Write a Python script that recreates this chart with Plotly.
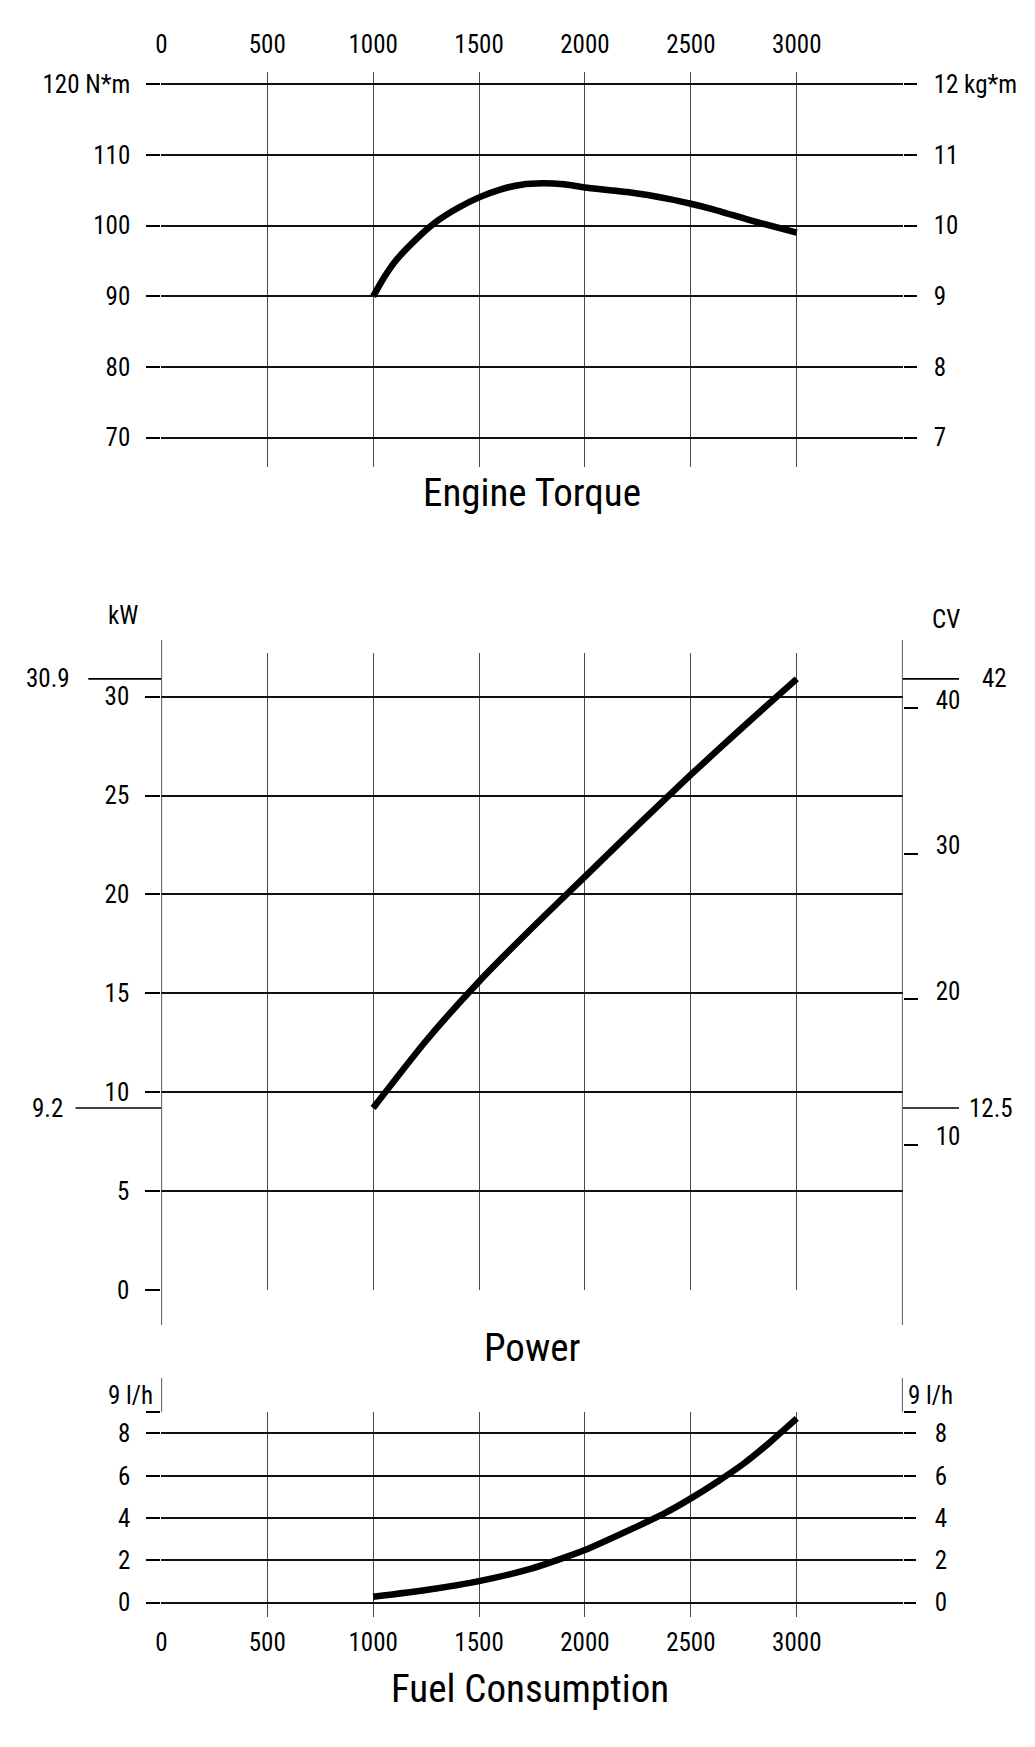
import plotly.graph_objects as go

# ---------------- data ----------------
rpm_ticks = [0, 500, 1000, 1500, 2000, 2500, 3000, 3500]
rpm_labels = ["0", "500", "1000", "1500", "2000", "2500", "3000", ""]

torque_rpm = [1000, 1050, 1100, 1200, 1300, 1400, 1500, 1600, 1700, 1800,
              1900, 2000, 2200, 2400, 2500, 2600, 2800, 3000]
torque_nm = [90.0, 92.6, 94.8, 98.0, 100.6, 102.5, 104.0, 105.1, 105.8, 106.0,
             105.85, 105.4, 104.75, 103.75, 103.1, 102.35, 100.6, 99.0]

power_rpm = [1000, 1250, 1500, 1750, 2000, 2250, 2500, 2750, 3000]
power_kw = [9.2, 12.6, 15.6, 18.3, 20.9, 23.5, 26.05, 28.5, 30.9]

fuel_rpm = [1000, 1250, 1500, 1750, 2000, 2250, 2375, 2500, 2625, 2750, 2875, 3000]
fuel_lh = [0.28, 0.6, 1.02, 1.62, 2.49, 3.62, 4.22, 4.93, 5.72, 6.58, 7.6, 8.71]

torque_ticks = [70, 80, 90, 100, 110, 120]
torque_left_labels = ["70", "80", "90", "100", "110", "120 N*m"]
torque_right_labels = ["7", "8", "9", "10", "11", "12 kg*m"]

power_ticks = [0, 5, 10, 15, 20, 25, 30]
power_labels = ["0", "5", "10", "15", "20", "25", "30"]
cv_ticks = [10, 20, 30, 40]
cv_labels = ["10", "20", "30", "40"]
KW_TO_CV = 1.35962
power_max_kw = 30.9
power_min_kw = 9.2
power_max_cv = "42"
power_min_cv = "12.5"

fuel_ticks = [0, 2, 4, 6, 8, 9]
fuel_labels = ["0", "2", "4", "6", "8", ""]

# ---------------- layout helpers ----------------
W, H = 1035, 1747
FONT = "Roboto Condensed, Liberation Sans, Arial, sans-serif"
TICK_FS = 25
TITLE_FS = 39


def px(x):
    return x / W


def py(y):
    return 1 - y / H


X_DOM = [px(161.3), px(902.7)]
PX_PER_KW = 19.78
PX_PER_LH = 21.16
PX_PER_NM = 7.067

T_TOP, T_BOT = 71.7, 466.7
t_range = [70 - (T_BOT - 437.7) / PX_PER_NM, 120 + (84.3 - T_TOP) / PX_PER_NM]
P_TOP, P_BOT = 653.0, 1290.0
p_range = [0, (P_BOT - P_TOP) / PX_PER_KW]
F_TOP, F_BOT = 1412.3, 1617.0
f_range = [-(F_BOT - 1602.7) / PX_PER_LH, 9]

tick_font = dict(family=FONT, size=TICK_FS, color="black")
VGRID = dict(showgrid=True, gridcolor="#4a4a4a", gridwidth=1.4, zeroline=False, automargin=False)
HGRID = dict(showgrid=True, gridcolor="#111111", gridwidth=1.7, zeroline=False, automargin=False)
NOGRID = dict(showgrid=False, zeroline=False, showline=False, automargin=False)

fig = go.Figure()

line_style = dict(color="black", width=6.5, shape="spline", smoothing=0.6)
fig.add_trace(go.Scatter(x=torque_rpm, y=torque_nm, mode="lines", line=line_style,
                         xaxis="x", yaxis="y", showlegend=False))
fig.add_trace(go.Scatter(x=power_rpm, y=power_kw, mode="lines", line=line_style,
                         xaxis="x2", yaxis="y2", showlegend=False))
fig.add_trace(go.Scatter(x=fuel_rpm, y=fuel_lh, mode="lines", line=line_style,
                         xaxis="x3", yaxis="y3", showlegend=False))
fig.add_trace(go.Scatter(x=[None], y=[None], xaxis="x", yaxis="y4", showlegend=False))
fig.add_trace(go.Scatter(x=[None], y=[None], xaxis="x2", yaxis="y5", showlegend=False))
fig.add_trace(go.Scatter(x=[None], y=[None], xaxis="x3", yaxis="y6", showlegend=False))

fig.update_layout(
    width=W, height=H,
    margin=dict(l=0, r=0, t=0, b=0, autoexpand=False),
    paper_bgcolor="white", plot_bgcolor="white",
    font=dict(family=FONT, color="black"),
    xaxis=dict(domain=X_DOM, range=[0, 3500], anchor="y", side="top",
               tickmode="array", tickvals=rpm_ticks, ticktext=rpm_labels,
               ticks="", tickfont=tick_font, ticklabelstandoff=13, showline=False, **VGRID),
    yaxis=dict(domain=[py(T_BOT), py(T_TOP)], range=t_range, anchor="x",
               tickmode="array", tickvals=torque_ticks, ticktext=torque_left_labels,
               ticks="outside", ticklen=14, tickwidth=1.7, tickcolor="black",
               tickfont=tick_font, ticklabelstandoff=11, showline=False, **HGRID),
    yaxis4=dict(overlaying="y", side="right", range=t_range, anchor="x",
                tickmode="array", tickvals=torque_ticks, ticktext=torque_right_labels,
                ticks="outside", ticklen=13, tickwidth=1.7, tickcolor="black",
                tickfont=tick_font, ticklabelstandoff=12, **NOGRID),
    xaxis2=dict(domain=X_DOM, range=[0, 3500], anchor="y2",
                tickmode="array", tickvals=rpm_ticks[1:-1], showticklabels=False,
                ticks="", showline=False, **VGRID),
    yaxis2=dict(domain=[py(P_BOT), py(P_TOP)], range=p_range, anchor="x2",
                tickmode="array", tickvals=power_ticks, ticktext=power_labels,
                ticks="outside", ticklen=15, tickwidth=1.7, tickcolor="black",
                tickfont=tick_font, ticklabelstandoff=11, showline=False, **HGRID),
    yaxis5=dict(overlaying="y2", side="right", anchor="x2",
                range=[p_range[0] * KW_TO_CV, p_range[1] * KW_TO_CV],
                tickmode="array", tickvals=cv_ticks, ticktext=cv_labels,
                ticks="outside", ticklen=14, tickwidth=1.5, tickcolor="black",
                tickfont=tick_font, ticklabelstandoff=13, ticklabelshift=-8, **NOGRID),
    xaxis3=dict(domain=X_DOM, range=[0, 3500], anchor="y3", side="bottom",
                tickmode="array", tickvals=rpm_ticks, ticktext=rpm_labels,
                ticks="", tickfont=tick_font, ticklabelstandoff=8, showline=False, **VGRID),
    yaxis3=dict(domain=[py(F_BOT), py(F_TOP)], range=f_range, anchor="x3",
                tickmode="array", tickvals=fuel_ticks, ticktext=fuel_labels,
                ticks="outside", ticklen=14, tickwidth=1.7, tickcolor="black",
                tickfont=tick_font, ticklabelstandoff=11, showline=False, **HGRID),
    yaxis6=dict(overlaying="y3", side="right", range=f_range, anchor="x3",
                tickmode="array", tickvals=fuel_ticks, ticktext=fuel_labels,
                ticks="outside", ticklen=12, tickwidth=1.7, tickcolor="black",
                tickfont=tick_font, ticklabelstandoff=14, **NOGRID),
)

shapes = []
for xv in (0, 3500):
    shapes.append(dict(type="line", xref="x2", yref="paper", x0=xv, x1=xv,
                       y0=py(1325), y1=py(640), line=dict(color="#333", width=1.6)))
    shapes.append(dict(type="line", xref="x3", yref="paper", x0=xv, x1=xv,
                       y0=py(F_TOP), y1=py(1378), line=dict(color="#333", width=1.6)))
for val in (power_max_kw, power_min_kw):
    x_left = px(88.3) if val == power_max_kw else px(75.6)
    shapes.append(dict(type="line", xref="paper", yref="y2", x0=x_left, x1=px(161.3),
                       y0=val, y1=val, line=dict(color="black", width=1.7)))
    shapes.append(dict(type="line", xref="paper", yref="y2", x0=px(902.7), x1=px(959),
                       y0=val, y1=val, line=dict(color="black", width=1.7)))

ann = []
def label(text, x, y, yref="paper", xanchor="center", size=TICK_FS):
    ann.append(dict(text=text, x=x, y=y, xref="paper", yref=yref, xanchor=xanchor,
                    yanchor="middle", showarrow=False,
                    font=dict(family=FONT, size=size, color="black")))

label("Engine Torque", px(532), py(493), size=TITLE_FS)
label("Power", px(532), py(1348), size=TITLE_FS)
label("Fuel Consumption", px(530), py(1689), size=TITLE_FS)
label("kW", px(123), py(615))
label("CV", px(946), py(620))
label(f"{power_max_kw}", px(72), power_max_kw, yref="y2", xanchor="right")
label(f"{power_min_kw}", px(65), power_min_kw, yref="y2", xanchor="right")
label(power_max_cv, px(980), power_max_kw, yref="y2", xanchor="left")
label(power_min_cv, px(967), power_min_kw, yref="y2", xanchor="left")
label("9 l/h", px(130), py(1395))
label("9 l/h", px(930), py(1395))

fig.update_layout(shapes=shapes, annotations=ann)
fig.write_html("out.html", config={"displayModeBar": False},
               post_script="document.body.style.margin='0';document.body.style.overflow='hidden';")
